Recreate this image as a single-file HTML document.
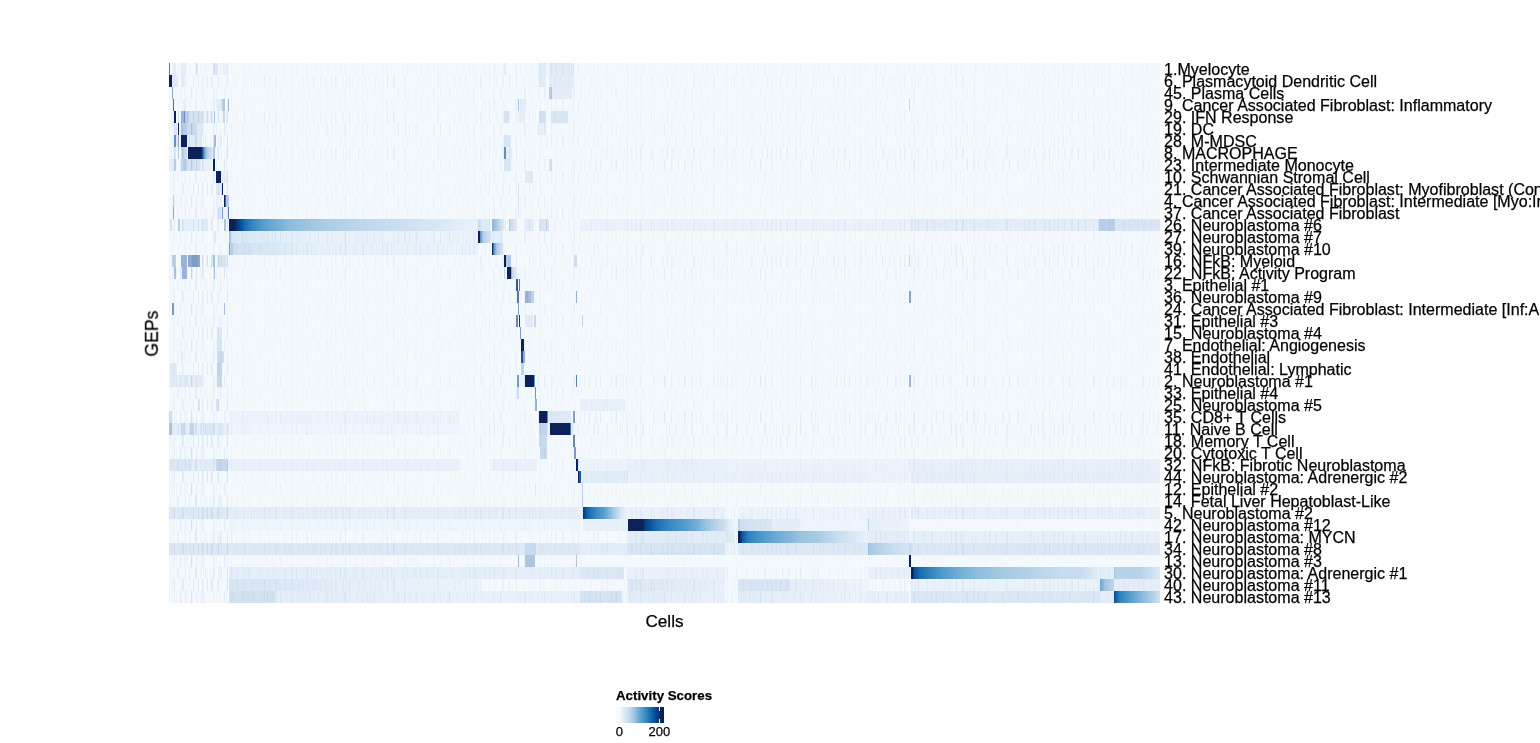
<!DOCTYPE html>
<html><head><meta charset="utf-8"><style>
html,body{margin:0;padding:0;background:#fff;overflow:hidden;width:1540px;height:743px}
svg{display:block}
text{font-family:"Liberation Sans",sans-serif}
</style></head><body>
<svg width="1540" height="743" viewBox="0 0 1540 743" shape-rendering="crispEdges">
<defs><linearGradient id="lg" x1="0" x2="1" y1="0" y2="0"><stop offset="0.0000" stop-color="#f7fbff"/><stop offset="0.0625" stop-color="#f7fbff"/><stop offset="0.0889" stop-color="#f1f7fd"/><stop offset="0.1152" stop-color="#eaf3fb"/><stop offset="0.1416" stop-color="#e4eff9"/><stop offset="0.1680" stop-color="#deebf7"/><stop offset="0.1943" stop-color="#d8e7f5"/><stop offset="0.2207" stop-color="#d2e3f3"/><stop offset="0.2471" stop-color="#ccdff1"/><stop offset="0.2734" stop-color="#c6dbef"/><stop offset="0.2998" stop-color="#bcd6ec"/><stop offset="0.3262" stop-color="#b2d0e8"/><stop offset="0.3525" stop-color="#a8cbe4"/><stop offset="0.3789" stop-color="#9ec6e1"/><stop offset="0.4053" stop-color="#91bfde"/><stop offset="0.4316" stop-color="#84b8db"/><stop offset="0.4580" stop-color="#78b1d8"/><stop offset="0.4844" stop-color="#6baad5"/><stop offset="0.5107" stop-color="#61a4d1"/><stop offset="0.5371" stop-color="#569ece"/><stop offset="0.5635" stop-color="#4c98ca"/><stop offset="0.5898" stop-color="#4292c6"/><stop offset="0.6162" stop-color="#3a8ac2"/><stop offset="0.6426" stop-color="#3282be"/><stop offset="0.6689" stop-color="#2979b9"/><stop offset="0.6953" stop-color="#2171b5"/><stop offset="0.7217" stop-color="#1b69af"/><stop offset="0.7480" stop-color="#1461a8"/><stop offset="0.7744" stop-color="#0e59a2"/><stop offset="0.8008" stop-color="#08519c"/><stop offset="0.8271" stop-color="#084990"/><stop offset="0.8535" stop-color="#084084"/><stop offset="0.8799" stop-color="#083877"/><stop offset="0.9062" stop-color="#08306b"/><stop offset="0.9167" stop-color="#0c2159"/><stop offset="1.0000" stop-color="#0c2159"/></linearGradient>
<filter id="stripes0" x="169" y="63" width="991" height="540" filterUnits="userSpaceOnUse" color-interpolation-filters="sRGB">
<feTurbulence type="fractalNoise" baseFrequency="0.45 0.0001" numOctaves="2" seed="3" result="n"/>
<feColorMatrix in="n" type="matrix" values="0 0 0 0 0.23  0 0 0 0 0.44  0 0 0 0 0.69  3.0 0 0 0 -1.5"/>
</filter><filter id="stripes1" x="169" y="63" width="991" height="540" filterUnits="userSpaceOnUse" color-interpolation-filters="sRGB">
<feTurbulence type="fractalNoise" baseFrequency="0.45 0.0001" numOctaves="2" seed="10" result="n"/>
<feColorMatrix in="n" type="matrix" values="0 0 0 0 0.23  0 0 0 0 0.44  0 0 0 0 0.69  3.0 0 0 0 -1.5"/>
</filter><filter id="stripes2" x="169" y="63" width="991" height="540" filterUnits="userSpaceOnUse" color-interpolation-filters="sRGB">
<feTurbulence type="fractalNoise" baseFrequency="0.45 0.0001" numOctaves="2" seed="17" result="n"/>
<feColorMatrix in="n" type="matrix" values="0 0 0 0 0.23  0 0 0 0 0.44  0 0 0 0 0.69  3.0 0 0 0 -1.5"/>
</filter></defs>
<g>
<rect x="169" y="63" width="991" height="540" fill="#f4f9fd"/>
<rect x="504.00" y="63" width="2.00" height="12" fill="#e4eef8"/>
<rect x="537.60" y="63" width="8.40" height="12" fill="#e3edf7"/>
<rect x="549.00" y="63" width="25.00" height="12" fill="#e2ecf6"/>
<rect x="173.30" y="63" width="2.40" height="12" fill="#e4edf8"/>
<rect x="181.00" y="63" width="4.80" height="12" fill="#e6eef8"/>
<rect x="196.30" y="63" width="1.20" height="12" fill="#e0eaf6"/>
<rect x="212.80" y="63" width="4.80" height="12" fill="#dde8f5"/>
<rect x="222.50" y="63" width="5.60" height="12" fill="#e8f0f9"/>
<rect x="537.60" y="75" width="8.40" height="12" fill="#e4eef8"/>
<rect x="549.00" y="75" width="25.00" height="12" fill="#e3edf7"/>
<rect x="172.00" y="75" width="6.00" height="12" fill="#e2ecf7"/>
<rect x="181.00" y="75" width="5.00" height="12" fill="#eaf1fa"/>
<rect x="549.40" y="87" width="2.20" height="12" fill="#b8cce6"/>
<rect x="551.60" y="87" width="20.40" height="12" fill="#e4eef8"/>
<rect x="520.00" y="99" width="6.00" height="12" fill="#e4edf8"/>
<rect x="182.00" y="99" width="4.00" height="12" fill="#eaf2fa"/>
<rect x="216.00" y="99" width="5.50" height="12" fill="#e6eef8"/>
<rect x="909.30" y="99" width="1.00" height="12" fill="#d0dcec"/>
<rect x="504.00" y="111" width="4.50" height="12" fill="#d7e4f2"/>
<rect x="518.00" y="111" width="7.00" height="12" fill="#e7eff8"/>
<rect x="538.70" y="111" width="7.50" height="12" fill="#d5e2f1"/>
<rect x="550.50" y="111" width="17.30" height="12" fill="#dae6f3"/>
<rect x="177.50" y="111" width="1.40" height="12" fill="#d0dff0"/>
<rect x="185.20" y="111" width="3.80" height="12" fill="#b8cce6"/>
<rect x="189.00" y="111" width="13.00" height="12" fill="#d5e2f1"/>
<rect x="202.00" y="111" width="10.00" height="12" fill="#eaf1fa"/>
<rect x="223.30" y="111" width="1.40" height="12" fill="#c8d8ec"/>
<rect x="538.00" y="123" width="8.00" height="12" fill="#e8f0f9"/>
<rect x="174.00" y="123" width="3.10" height="12" fill="#e0eaf6"/>
<rect x="186.60" y="123" width="9.10" height="12" fill="#c8dcef"/>
<rect x="195.70" y="123" width="6.30" height="12" fill="#e0eaf6"/>
<rect x="504.00" y="135" width="6.60" height="12" fill="#dae6f3"/>
<rect x="176.00" y="135" width="1.50" height="12" fill="#e0eaf6"/>
<rect x="179.20" y="135" width="1.80" height="12" fill="#eaf2fa"/>
<rect x="187.00" y="135" width="15.00" height="12" fill="#e2ecf7"/>
<rect x="506.00" y="147" width="6.00" height="12" fill="#e5eef8"/>
<rect x="174.00" y="147" width="1.80" height="12" fill="#dce8f5"/>
<rect x="181.30" y="147" width="5.60" height="12" fill="#c8daee"/>
<rect x="504.00" y="159" width="6.60" height="12" fill="#dae6f3"/>
<rect x="549.40" y="159" width="2.20" height="12" fill="#d5e2f1"/>
<rect x="169.00" y="159" width="4.60" height="12" fill="#e8f0f9"/>
<rect x="174.00" y="159" width="2.00" height="12" fill="#b8cfe8"/>
<rect x="181.00" y="159" width="2.00" height="12" fill="#c8daee"/>
<rect x="183.00" y="159" width="3.00" height="12" fill="#b8cfe6"/>
<rect x="186.00" y="159" width="1.00" height="12" fill="#c8daee"/>
<rect x="187.00" y="159" width="13.00" height="12" fill="#d5e3f2"/>
<rect x="200.00" y="159" width="12.00" height="12" fill="#e8f0f9"/>
<rect x="524.60" y="171" width="8.70" height="12" fill="#e0ebf6"/>
<rect x="221.10" y="171" width="6.90" height="12" fill="#e6eef8"/>
<rect x="517.80" y="183" width="1.50" height="12" fill="#d8e5f3"/>
<rect x="216.30" y="183" width="5.60" height="12" fill="#e2ecf7"/>
<rect x="517.80" y="195" width="1.50" height="12" fill="#d8e5f3"/>
<rect x="172.50" y="195" width="1.10" height="12" fill="#c0d0e6"/>
<rect x="216.00" y="195" width="6.00" height="12" fill="#edf3fb"/>
<rect x="226.10" y="195" width="2.90" height="12" fill="#b8cce6"/>
<rect x="517.80" y="207" width="1.50" height="12" fill="#d8e5f3"/>
<rect x="217.00" y="207" width="3.90" height="12" fill="#d8e5f3"/>
<rect x="223.00" y="207" width="4.90" height="12" fill="#eef4fb"/>
<rect x="170.00" y="219" width="1.90" height="12" fill="#dae6f4"/>
<rect x="178.20" y="219" width="1.70" height="12" fill="#b8d0e8"/>
<rect x="181.00" y="219" width="21.00" height="12" fill="#e8f0f9"/>
<rect x="202.30" y="219" width="4.20" height="12" fill="#e2ecf7"/>
<rect x="477.00" y="219" width="1.00" height="12" fill="#e8f0f9"/>
<rect x="478.00" y="219" width="1.70" height="12" fill="#d0dcec"/>
<rect x="479.70" y="219" width="10.30" height="12" fill="#e2ecf7"/>
<rect x="502.80" y="219" width="2.10" height="12" fill="#eef4fb"/>
<rect x="504.90" y="219" width="1.40" height="12" fill="#dde8f4"/>
<rect x="508.80" y="219" width="1.00" height="12" fill="#c0d4ea"/>
<linearGradient id="g13_2" x1="0" x2="1" y1="0" y2="0"><stop offset="0.0000" stop-color="#c8daee"/><stop offset="1.0000" stop-color="#dde9f5"/></linearGradient>
<rect x="509.80" y="219" width="6.20" height="12" fill="url(#g13_2)"/>
<rect x="525.00" y="219" width="8.00" height="12" fill="#e2ecf7"/>
<rect x="539.00" y="219" width="9.70" height="12" fill="#dce8f5"/>
<rect x="546.00" y="219" width="1.00" height="12" fill="#b8d0e8"/>
<rect x="580.00" y="219" width="330.00" height="12" fill="#ecf2fa"/>
<rect x="910.00" y="219" width="189.00" height="12" fill="#e4edf8"/>
<rect x="1099.00" y="219" width="16.00" height="12" fill="#b8d0e8"/>
<rect x="1115.00" y="219" width="45.00" height="12" fill="#dae6f4"/>
<rect x="214.20" y="231" width="1.40" height="12" fill="#e0eaf5"/>
<linearGradient id="g14_0" x1="0" x2="1" y1="0" y2="0"><stop offset="0.0000" stop-color="#d9e8f5"/><stop offset="0.1174" stop-color="#dfecf7"/><stop offset="0.3603" stop-color="#e9f2fb"/><stop offset="1.0000" stop-color="#ebf3fb"/></linearGradient>
<rect x="231.00" y="231" width="247.00" height="12" fill="url(#g14_0)"/>
<rect x="490.60" y="231" width="1.40" height="12" fill="#eaf2fa"/>
<rect x="492.00" y="231" width="11.00" height="12" fill="#e6eef8"/>
<rect x="230.20" y="243" width="3.80" height="12" fill="#c0d6ec"/>
<linearGradient id="g15_0" x1="0" x2="1" y1="0" y2="0"><stop offset="0.0000" stop-color="#d0e1f2"/><stop offset="0.1066" stop-color="#d7e7f5"/><stop offset="0.2295" stop-color="#dfecf7"/><stop offset="0.3525" stop-color="#e7f1fa"/><stop offset="1.0000" stop-color="#ebf3fb"/></linearGradient>
<rect x="234.00" y="243" width="244.00" height="12" fill="url(#g15_0)"/>
<rect x="172.20" y="255" width="3.40" height="12" fill="#c0d2e8"/>
<rect x="218.00" y="255" width="8.00" height="12" fill="#d8e4f2"/>
<rect x="506.60" y="255" width="4.10" height="12" fill="#b5cde6"/>
<rect x="573.50" y="255" width="3.70" height="12" fill="#d0dff0"/>
<rect x="909.30" y="255" width="1.00" height="12" fill="#c8d8ec"/>
<rect x="504.00" y="267" width="1.10" height="12" fill="#c8d8ec"/>

<rect x="518.80" y="291" width="2.60" height="12" fill="#eef4fb"/>
<rect x="531.00" y="291" width="2.80" height="12" fill="#c0d2e8"/>

<rect x="525.20" y="315" width="7.70" height="12" fill="#e2ecf7"/>
<rect x="534.30" y="315" width="1.40" height="12" fill="#c8d8ec"/>
<rect x="582.00" y="315" width="1.00" height="12" fill="#c0d4ea"/>
<rect x="217.00" y="327" width="5.00" height="12" fill="#e0eaf6"/>
<rect x="217.00" y="339" width="5.00" height="12" fill="#d8e4f2"/>
<rect x="181.00" y="351" width="2.00" height="12" fill="#e2ecf7"/>
<rect x="217.00" y="351" width="7.00" height="12" fill="#d0dff0"/>
<rect x="170.00" y="363" width="7.00" height="12" fill="#e2ecf7"/>
<rect x="217.00" y="363" width="5.00" height="12" fill="#c8d8ec"/>
<rect x="521.10" y="363" width="3.20" height="12" fill="#c0d4ea"/>
<rect x="170.00" y="375" width="32.00" height="12" fill="#e4edf8"/>
<rect x="217.00" y="375" width="5.00" height="12" fill="#c8d8ec"/>
<rect x="518.70" y="375" width="6.30" height="12" fill="#eef4fb"/>
<rect x="516.60" y="387" width="2.40" height="12" fill="#c8daee"/>
<rect x="198.00" y="399" width="2.00" height="12" fill="#dce8f5"/>
<rect x="216.00" y="399" width="3.00" height="12" fill="#d8e4f2"/>
<rect x="580.00" y="399" width="45.00" height="12" fill="#e8f0f9"/>
<rect x="169.00" y="411" width="3.00" height="12" fill="#d0dff0"/>
<rect x="229.00" y="411" width="231.00" height="12" fill="#edf3fb"/>
<rect x="547.80" y="411" width="23.20" height="12" fill="#e0eaf6"/>
<rect x="169.00" y="423" width="60.00" height="12" fill="#e4edf8"/>
<rect x="181.00" y="423" width="4.00" height="12" fill="#c8daee"/>
<rect x="190.00" y="423" width="4.00" height="12" fill="#c0d4ea"/>
<rect x="200.00" y="423" width="15.00" height="12" fill="#dde8f5"/>
<rect x="229.00" y="423" width="231.00" height="12" fill="#eff5fc"/>
<rect x="538.90" y="423" width="8.10" height="12" fill="#c0d4ea"/>
<rect x="547.00" y="423" width="3.00" height="12" fill="#e8f0f9"/>
<rect x="571.00" y="423" width="2.00" height="12" fill="#e0eaf5"/>
<rect x="538.90" y="435" width="8.10" height="12" fill="#c8dcef"/>
<rect x="540.00" y="447" width="7.00" height="12" fill="#c8daee"/>
<rect x="169.00" y="459" width="60.00" height="12" fill="#e4edf8"/>
<rect x="170.00" y="459" width="22.00" height="12" fill="#dce8f5"/>
<rect x="216.00" y="459" width="12.00" height="12" fill="#c8d8ec"/>
<rect x="229.00" y="459" width="231.00" height="12" fill="#eaf1fa"/>
<rect x="491.00" y="459" width="46.00" height="12" fill="#eaf1fa"/>
<rect x="577.80" y="459" width="2.20" height="12" fill="#e2ecf7"/>
<rect x="580.00" y="459" width="580.00" height="12" fill="#edf3fb"/>
<rect x="628.00" y="459" width="97.00" height="12" fill="#e8f0f9"/>
<rect x="909.00" y="459" width="251.00" height="12" fill="#e8f0f9"/>
<rect x="580.60" y="471" width="47.40" height="12" fill="#e2ecf7"/>
<rect x="628.00" y="471" width="240.00" height="12" fill="#eaf1fa"/>
<rect x="868.00" y="471" width="42.00" height="12" fill="#edf3fb"/>
<rect x="911.00" y="471" width="249.00" height="12" fill="#e6eef8"/>
<rect x="535.00" y="483" width="1.00" height="12" fill="#dde8f4"/>
<rect x="581.50" y="483" width="1.40" height="12" fill="#c8d4e6"/>
<rect x="581.80" y="495" width="1.40" height="12" fill="#b8cce6"/>
<rect x="169.00" y="507" width="60.00" height="12" fill="#e0eaf6"/>
<rect x="229.00" y="507" width="353.90" height="12" fill="#e6eef8"/>
<rect x="628.00" y="507" width="97.00" height="12" fill="#e9f1fa"/>
<rect x="738.00" y="507" width="130.00" height="12" fill="#eef4fb"/>
<rect x="868.00" y="507" width="41.00" height="12" fill="#ebf2fa"/>
<rect x="911.00" y="507" width="249.00" height="12" fill="#e8f0f9"/>
<rect x="229.00" y="519" width="351.00" height="12" fill="#eff5fc"/>
<rect x="583.00" y="519" width="45.00" height="12" fill="#e8f0f9"/>
<rect x="738.00" y="519" width="2.00" height="12" fill="#b8d0e8"/>
<linearGradient id="g38_1" x1="0" x2="1" y1="0" y2="0"><stop offset="0.0000" stop-color="#cfdff0"/><stop offset="1.0000" stop-color="#dae6f3"/></linearGradient>
<rect x="740.00" y="519" width="32.00" height="12" fill="url(#g38_1)"/>
<rect x="772.00" y="519" width="28.00" height="12" fill="#e4edf8"/>
<rect x="800.00" y="519" width="68.00" height="12" fill="#eef4fb"/>
<rect x="868.00" y="519" width="1.00" height="12" fill="#c0d4ea"/>
<linearGradient id="g38_2" x1="0" x2="1" y1="0" y2="0"><stop offset="0.0000" stop-color="#e6eef8"/><stop offset="1.0000" stop-color="#eef4fb"/></linearGradient>
<rect x="869.00" y="519" width="41.00" height="12" fill="url(#g38_2)"/>
<rect x="628.00" y="531" width="107.00" height="12" fill="#e2ecf7"/>
<rect x="868.00" y="531" width="41.00" height="12" fill="#e4edf8"/>
<rect x="911.00" y="531" width="249.00" height="12" fill="#e8f0f9"/>
<rect x="169.00" y="543" width="991.00" height="12" fill="#dfe9f5"/>
<rect x="524.80" y="543" width="10.70" height="12" fill="#c8dcef"/>
<rect x="580.00" y="543" width="48.00" height="12" fill="#e4edf8"/>
<rect x="628.00" y="543" width="97.00" height="12" fill="#d8e5f3"/>
<rect x="725.00" y="543" width="13.00" height="12" fill="#edf3fb"/>
<rect x="909.00" y="543" width="2.00" height="12" fill="#c8dbef"/>
<rect x="911.00" y="543" width="249.00" height="12" fill="#dde8f5"/>

<rect x="229.00" y="567" width="351.00" height="12" fill="#e6eff9"/>
<rect x="580.00" y="567" width="44.00" height="12" fill="#dde8f5"/>
<rect x="628.00" y="567" width="97.00" height="12" fill="#eaf1fa"/>
<rect x="868.00" y="567" width="41.00" height="12" fill="#e8f0f9"/>
<rect x="1100.00" y="567" width="14.00" height="12" fill="#e4edf8"/>
<linearGradient id="g43_0" x1="0" x2="1" y1="0" y2="0"><stop offset="0.0000" stop-color="#d8e5f3"/><stop offset="1.0000" stop-color="#e2ecf7"/></linearGradient>
<rect x="229.00" y="579" width="101.00" height="12" fill="url(#g43_0)"/>
<linearGradient id="g43_1" x1="0" x2="1" y1="0" y2="0"><stop offset="0.0000" stop-color="#e6eef8"/><stop offset="1.0000" stop-color="#eef4fb"/></linearGradient>
<rect x="330.00" y="579" width="150.00" height="12" fill="url(#g43_1)"/>
<linearGradient id="g43_2" x1="0" x2="1" y1="0" y2="0"><stop offset="0.0000" stop-color="#dce8f5"/><stop offset="1.0000" stop-color="#eaf1fa"/></linearGradient>
<rect x="628.00" y="579" width="97.00" height="12" fill="url(#g43_2)"/>
<rect x="738.00" y="579" width="52.00" height="12" fill="#dae6f4"/>
<linearGradient id="g43_3" x1="0" x2="1" y1="0" y2="0"><stop offset="0.0000" stop-color="#e6eef8"/><stop offset="1.0000" stop-color="#eef4fb"/></linearGradient>
<rect x="790.00" y="579" width="78.00" height="12" fill="url(#g43_3)"/>
<rect x="911.00" y="579" width="189.00" height="12" fill="#eaf2fa"/>
<rect x="1114.00" y="579" width="46.00" height="12" fill="#e4edf8"/>
<rect x="229.00" y="591" width="46.00" height="12" fill="#d2e2f1"/>
<linearGradient id="g44_0" x1="0" x2="1" y1="0" y2="0"><stop offset="0.0000" stop-color="#e4edf8"/><stop offset="1.0000" stop-color="#eaf1fa"/></linearGradient>
<rect x="275.00" y="591" width="205.00" height="12" fill="url(#g44_0)"/>
<rect x="480.00" y="591" width="100.00" height="12" fill="#eaf1fa"/>
<rect x="580.00" y="591" width="42.00" height="12" fill="#d5e3f2"/>
<linearGradient id="g44_1" x1="0" x2="1" y1="0" y2="0"><stop offset="0.0000" stop-color="#e2ecf7"/><stop offset="1.0000" stop-color="#eaf1fa"/></linearGradient>
<rect x="628.00" y="591" width="97.00" height="12" fill="url(#g44_1)"/>
<linearGradient id="g44_2" x1="0" x2="1" y1="0" y2="0"><stop offset="0.0000" stop-color="#e2ecf7"/><stop offset="1.0000" stop-color="#eef4fb"/></linearGradient>
<rect x="738.00" y="591" width="130.00" height="12" fill="url(#g44_2)"/>
<rect x="868.00" y="591" width="41.00" height="12" fill="#e8f0f9"/>
<rect x="911.00" y="591" width="189.00" height="12" fill="#dde8f5"/>
<rect x="1100.00" y="591" width="14.00" height="12" fill="#e4edf8"/>
<mask id="tm0" maskUnits="userSpaceOnUse" x="169" y="63" width="991" height="540"><rect x="169.0" y="63" width="60.0" height="12" fill="rgb(31,31,31)"/><rect x="229.0" y="63" width="249.0" height="12" fill="rgb(15,15,15)"/><rect x="478.0" y="63" width="104.0" height="12" fill="rgb(26,26,26)"/><rect x="582.0" y="63" width="328.0" height="12" fill="rgb(15,15,15)"/><rect x="910.0" y="63" width="250.0" height="12" fill="rgb(15,15,15)"/><rect x="169.0" y="99" width="60.0" height="12" fill="rgb(31,31,31)"/><rect x="229.0" y="99" width="249.0" height="12" fill="rgb(15,15,15)"/><rect x="478.0" y="99" width="104.0" height="12" fill="rgb(26,26,26)"/><rect x="582.0" y="99" width="328.0" height="12" fill="rgb(15,15,15)"/><rect x="910.0" y="99" width="250.0" height="12" fill="rgb(15,15,15)"/><rect x="169.0" y="135" width="60.0" height="12" fill="rgb(64,64,64)"/><rect x="229.0" y="135" width="249.0" height="12" fill="rgb(15,15,15)"/><rect x="478.0" y="135" width="104.0" height="12" fill="rgb(26,26,26)"/><rect x="582.0" y="135" width="328.0" height="12" fill="rgb(20,20,20)"/><rect x="910.0" y="135" width="250.0" height="12" fill="rgb(20,20,20)"/><rect x="169.0" y="171" width="60.0" height="12" fill="rgb(38,38,38)"/><rect x="229.0" y="171" width="249.0" height="12" fill="rgb(15,15,15)"/><rect x="478.0" y="171" width="104.0" height="12" fill="rgb(26,26,26)"/><rect x="582.0" y="171" width="328.0" height="12" fill="rgb(18,18,18)"/><rect x="910.0" y="171" width="250.0" height="12" fill="rgb(18,18,18)"/><rect x="169.0" y="207" width="60.0" height="12" fill="rgb(38,38,38)"/><rect x="229.0" y="207" width="249.0" height="12" fill="rgb(15,15,15)"/><rect x="478.0" y="207" width="104.0" height="12" fill="rgb(26,26,26)"/><rect x="582.0" y="207" width="328.0" height="12" fill="rgb(13,13,13)"/><rect x="910.0" y="207" width="250.0" height="12" fill="rgb(13,13,13)"/><rect x="169.0" y="243" width="60.0" height="12" fill="rgb(31,31,31)"/><rect x="229.0" y="243" width="249.0" height="12" fill="rgb(31,31,31)"/><rect x="478.0" y="243" width="104.0" height="12" fill="rgb(26,26,26)"/><rect x="582.0" y="243" width="328.0" height="12" fill="rgb(26,26,26)"/><rect x="910.0" y="243" width="250.0" height="12" fill="rgb(26,26,26)"/><rect x="169.0" y="279" width="60.0" height="12" fill="rgb(38,38,38)"/><rect x="229.0" y="279" width="249.0" height="12" fill="rgb(13,13,13)"/><rect x="478.0" y="279" width="104.0" height="12" fill="rgb(20,20,20)"/><rect x="582.0" y="279" width="328.0" height="12" fill="rgb(13,13,13)"/><rect x="910.0" y="279" width="250.0" height="12" fill="rgb(13,13,13)"/><rect x="169.0" y="315" width="60.0" height="12" fill="rgb(38,38,38)"/><rect x="229.0" y="315" width="249.0" height="12" fill="rgb(13,13,13)"/><rect x="478.0" y="315" width="104.0" height="12" fill="rgb(20,20,20)"/><rect x="582.0" y="315" width="328.0" height="12" fill="rgb(13,13,13)"/><rect x="910.0" y="315" width="250.0" height="12" fill="rgb(13,13,13)"/><rect x="169.0" y="351" width="60.0" height="12" fill="rgb(38,38,38)"/><rect x="229.0" y="351" width="249.0" height="12" fill="rgb(13,13,13)"/><rect x="478.0" y="351" width="104.0" height="12" fill="rgb(20,20,20)"/><rect x="582.0" y="351" width="328.0" height="12" fill="rgb(13,13,13)"/><rect x="910.0" y="351" width="250.0" height="12" fill="rgb(13,13,13)"/><rect x="169.0" y="387" width="60.0" height="12" fill="rgb(38,38,38)"/><rect x="229.0" y="387" width="249.0" height="12" fill="rgb(13,13,13)"/><rect x="478.0" y="387" width="104.0" height="12" fill="rgb(20,20,20)"/><rect x="582.0" y="387" width="328.0" height="12" fill="rgb(15,15,15)"/><rect x="910.0" y="387" width="250.0" height="12" fill="rgb(15,15,15)"/><rect x="169.0" y="423" width="60.0" height="12" fill="rgb(51,51,51)"/><rect x="229.0" y="423" width="249.0" height="12" fill="rgb(20,20,20)"/><rect x="478.0" y="423" width="104.0" height="12" fill="rgb(31,31,31)"/><rect x="582.0" y="423" width="328.0" height="12" fill="rgb(33,33,33)"/><rect x="910.0" y="423" width="250.0" height="12" fill="rgb(33,33,33)"/><rect x="169.0" y="459" width="60.0" height="12" fill="rgb(51,51,51)"/><rect x="229.0" y="459" width="249.0" height="12" fill="rgb(15,15,15)"/><rect x="478.0" y="459" width="104.0" height="12" fill="rgb(20,20,20)"/><rect x="582.0" y="459" width="328.0" height="12" fill="rgb(15,15,15)"/><rect x="910.0" y="459" width="250.0" height="12" fill="rgb(15,15,15)"/><rect x="169.0" y="495" width="60.0" height="12" fill="rgb(51,51,51)"/><rect x="229.0" y="495" width="249.0" height="12" fill="rgb(15,15,15)"/><rect x="478.0" y="495" width="104.0" height="12" fill="rgb(20,20,20)"/><rect x="582.0" y="495" width="328.0" height="12" fill="rgb(15,15,15)"/><rect x="910.0" y="495" width="250.0" height="12" fill="rgb(15,15,15)"/><rect x="169.0" y="531" width="60.0" height="12" fill="rgb(51,51,51)"/><rect x="229.0" y="531" width="249.0" height="12" fill="rgb(26,26,26)"/><rect x="478.0" y="531" width="104.0" height="12" fill="rgb(26,26,26)"/><rect x="582.0" y="531" width="328.0" height="12" fill="rgb(26,26,26)"/><rect x="910.0" y="531" width="250.0" height="12" fill="rgb(26,26,26)"/><rect x="169.0" y="567" width="60.0" height="12" fill="rgb(51,51,51)"/><rect x="229.0" y="567" width="249.0" height="12" fill="rgb(26,26,26)"/><rect x="478.0" y="567" width="104.0" height="12" fill="rgb(26,26,26)"/><rect x="582.0" y="567" width="328.0" height="12" fill="rgb(26,26,26)"/><rect x="910.0" y="567" width="250.0" height="12" fill="rgb(26,26,26)"/></mask>
<rect x="169" y="63" width="991" height="540" fill="#000" filter="url(#stripes0)" mask="url(#tm0)"/>
<mask id="tm1" maskUnits="userSpaceOnUse" x="169" y="63" width="991" height="540"><rect x="169.0" y="75" width="60.0" height="12" fill="rgb(31,31,31)"/><rect x="229.0" y="75" width="249.0" height="12" fill="rgb(26,26,26)"/><rect x="478.0" y="75" width="104.0" height="12" fill="rgb(26,26,26)"/><rect x="582.0" y="75" width="328.0" height="12" fill="rgb(20,20,20)"/><rect x="910.0" y="75" width="250.0" height="12" fill="rgb(20,20,20)"/><rect x="169.0" y="111" width="60.0" height="12" fill="rgb(64,64,64)"/><rect x="229.0" y="111" width="249.0" height="12" fill="rgb(26,26,26)"/><rect x="478.0" y="111" width="104.0" height="12" fill="rgb(26,26,26)"/><rect x="582.0" y="111" width="328.0" height="12" fill="rgb(18,18,18)"/><rect x="910.0" y="111" width="250.0" height="12" fill="rgb(18,18,18)"/><rect x="169.0" y="147" width="60.0" height="12" fill="rgb(64,64,64)"/><rect x="229.0" y="147" width="249.0" height="12" fill="rgb(26,26,26)"/><rect x="478.0" y="147" width="104.0" height="12" fill="rgb(26,26,26)"/><rect x="582.0" y="147" width="328.0" height="12" fill="rgb(31,31,31)"/><rect x="910.0" y="147" width="250.0" height="12" fill="rgb(31,31,31)"/><rect x="169.0" y="183" width="60.0" height="12" fill="rgb(38,38,38)"/><rect x="229.0" y="183" width="249.0" height="12" fill="rgb(15,15,15)"/><rect x="478.0" y="183" width="104.0" height="12" fill="rgb(26,26,26)"/><rect x="582.0" y="183" width="328.0" height="12" fill="rgb(13,13,13)"/><rect x="910.0" y="183" width="250.0" height="12" fill="rgb(13,13,13)"/><rect x="169.0" y="219" width="60.0" height="12" fill="rgb(51,51,51)"/><rect x="478.0" y="219" width="104.0" height="12" fill="rgb(38,38,38)"/><rect x="582.0" y="219" width="328.0" height="12" fill="rgb(26,26,26)"/><rect x="910.0" y="219" width="250.0" height="12" fill="rgb(38,38,38)"/><rect x="169.0" y="255" width="60.0" height="12" fill="rgb(76,76,76)"/><rect x="229.0" y="255" width="249.0" height="12" fill="rgb(20,20,20)"/><rect x="478.0" y="255" width="104.0" height="12" fill="rgb(26,26,26)"/><rect x="582.0" y="255" width="328.0" height="12" fill="rgb(31,31,31)"/><rect x="910.0" y="255" width="250.0" height="12" fill="rgb(31,31,31)"/><rect x="169.0" y="291" width="60.0" height="12" fill="rgb(38,38,38)"/><rect x="229.0" y="291" width="249.0" height="12" fill="rgb(13,13,13)"/><rect x="478.0" y="291" width="104.0" height="12" fill="rgb(20,20,20)"/><rect x="582.0" y="291" width="328.0" height="12" fill="rgb(18,18,18)"/><rect x="910.0" y="291" width="250.0" height="12" fill="rgb(18,18,18)"/><rect x="169.0" y="327" width="60.0" height="12" fill="rgb(38,38,38)"/><rect x="229.0" y="327" width="249.0" height="12" fill="rgb(13,13,13)"/><rect x="478.0" y="327" width="104.0" height="12" fill="rgb(20,20,20)"/><rect x="582.0" y="327" width="328.0" height="12" fill="rgb(13,13,13)"/><rect x="910.0" y="327" width="250.0" height="12" fill="rgb(13,13,13)"/><rect x="169.0" y="363" width="60.0" height="12" fill="rgb(38,38,38)"/><rect x="229.0" y="363" width="249.0" height="12" fill="rgb(13,13,13)"/><rect x="478.0" y="363" width="104.0" height="12" fill="rgb(20,20,20)"/><rect x="582.0" y="363" width="328.0" height="12" fill="rgb(13,13,13)"/><rect x="910.0" y="363" width="250.0" height="12" fill="rgb(13,13,13)"/><rect x="169.0" y="399" width="60.0" height="12" fill="rgb(38,38,38)"/><rect x="229.0" y="399" width="249.0" height="12" fill="rgb(13,13,13)"/><rect x="478.0" y="399" width="104.0" height="12" fill="rgb(20,20,20)"/><rect x="582.0" y="399" width="328.0" height="12" fill="rgb(15,15,15)"/><rect x="910.0" y="399" width="250.0" height="12" fill="rgb(15,15,15)"/><rect x="169.0" y="435" width="60.0" height="12" fill="rgb(51,51,51)"/><rect x="229.0" y="435" width="249.0" height="12" fill="rgb(15,15,15)"/><rect x="478.0" y="435" width="104.0" height="12" fill="rgb(26,26,26)"/><rect x="582.0" y="435" width="328.0" height="12" fill="rgb(26,26,26)"/><rect x="910.0" y="435" width="250.0" height="12" fill="rgb(26,26,26)"/><rect x="169.0" y="471" width="60.0" height="12" fill="rgb(51,51,51)"/><rect x="229.0" y="471" width="249.0" height="12" fill="rgb(15,15,15)"/><rect x="478.0" y="471" width="104.0" height="12" fill="rgb(20,20,20)"/><rect x="582.0" y="471" width="328.0" height="12" fill="rgb(15,15,15)"/><rect x="910.0" y="471" width="250.0" height="12" fill="rgb(15,15,15)"/><rect x="169.0" y="507" width="60.0" height="12" fill="rgb(51,51,51)"/><rect x="229.0" y="507" width="249.0" height="12" fill="rgb(26,26,26)"/><rect x="478.0" y="507" width="104.0" height="12" fill="rgb(26,26,26)"/><rect x="582.0" y="507" width="328.0" height="12" fill="rgb(26,26,26)"/><rect x="910.0" y="507" width="250.0" height="12" fill="rgb(26,26,26)"/><rect x="169.0" y="543" width="60.0" height="12" fill="rgb(51,51,51)"/><rect x="229.0" y="543" width="249.0" height="12" fill="rgb(26,26,26)"/><rect x="478.0" y="543" width="104.0" height="12" fill="rgb(26,26,26)"/><rect x="582.0" y="543" width="328.0" height="12" fill="rgb(26,26,26)"/><rect x="910.0" y="543" width="250.0" height="12" fill="rgb(26,26,26)"/><rect x="169.0" y="579" width="60.0" height="12" fill="rgb(51,51,51)"/><rect x="229.0" y="579" width="249.0" height="12" fill="rgb(26,26,26)"/><rect x="478.0" y="579" width="104.0" height="12" fill="rgb(26,26,26)"/><rect x="582.0" y="579" width="328.0" height="12" fill="rgb(26,26,26)"/><rect x="910.0" y="579" width="250.0" height="12" fill="rgb(26,26,26)"/></mask>
<rect x="169" y="63" width="991" height="540" fill="#000" filter="url(#stripes1)" mask="url(#tm1)"/>
<mask id="tm2" maskUnits="userSpaceOnUse" x="169" y="63" width="991" height="540"><rect x="169.0" y="87" width="60.0" height="12" fill="rgb(31,31,31)"/><rect x="229.0" y="87" width="249.0" height="12" fill="rgb(15,15,15)"/><rect x="478.0" y="87" width="104.0" height="12" fill="rgb(26,26,26)"/><rect x="582.0" y="87" width="328.0" height="12" fill="rgb(13,13,13)"/><rect x="910.0" y="87" width="250.0" height="12" fill="rgb(13,13,13)"/><rect x="169.0" y="123" width="60.0" height="12" fill="rgb(64,64,64)"/><rect x="229.0" y="123" width="249.0" height="12" fill="rgb(26,26,26)"/><rect x="478.0" y="123" width="104.0" height="12" fill="rgb(26,26,26)"/><rect x="582.0" y="123" width="328.0" height="12" fill="rgb(20,20,20)"/><rect x="910.0" y="123" width="250.0" height="12" fill="rgb(20,20,20)"/><rect x="169.0" y="159" width="60.0" height="12" fill="rgb(64,64,64)"/><rect x="229.0" y="159" width="249.0" height="12" fill="rgb(15,15,15)"/><rect x="478.0" y="159" width="104.0" height="12" fill="rgb(26,26,26)"/><rect x="582.0" y="159" width="328.0" height="12" fill="rgb(28,28,28)"/><rect x="910.0" y="159" width="250.0" height="12" fill="rgb(28,28,28)"/><rect x="169.0" y="195" width="60.0" height="12" fill="rgb(38,38,38)"/><rect x="229.0" y="195" width="249.0" height="12" fill="rgb(15,15,15)"/><rect x="478.0" y="195" width="104.0" height="12" fill="rgb(26,26,26)"/><rect x="582.0" y="195" width="328.0" height="12" fill="rgb(15,15,15)"/><rect x="910.0" y="195" width="250.0" height="12" fill="rgb(15,15,15)"/><rect x="169.0" y="231" width="60.0" height="12" fill="rgb(31,31,31)"/><rect x="229.0" y="231" width="249.0" height="12" fill="rgb(31,31,31)"/><rect x="478.0" y="231" width="104.0" height="12" fill="rgb(26,26,26)"/><rect x="582.0" y="231" width="328.0" height="12" fill="rgb(15,15,15)"/><rect x="910.0" y="231" width="250.0" height="12" fill="rgb(15,15,15)"/><rect x="169.0" y="267" width="60.0" height="12" fill="rgb(76,76,76)"/><rect x="229.0" y="267" width="249.0" height="12" fill="rgb(20,20,20)"/><rect x="478.0" y="267" width="104.0" height="12" fill="rgb(26,26,26)"/><rect x="582.0" y="267" width="328.0" height="12" fill="rgb(26,26,26)"/><rect x="910.0" y="267" width="250.0" height="12" fill="rgb(26,26,26)"/><rect x="169.0" y="303" width="60.0" height="12" fill="rgb(38,38,38)"/><rect x="229.0" y="303" width="249.0" height="12" fill="rgb(13,13,13)"/><rect x="478.0" y="303" width="104.0" height="12" fill="rgb(20,20,20)"/><rect x="582.0" y="303" width="328.0" height="12" fill="rgb(10,10,10)"/><rect x="910.0" y="303" width="250.0" height="12" fill="rgb(10,10,10)"/><rect x="169.0" y="339" width="60.0" height="12" fill="rgb(38,38,38)"/><rect x="229.0" y="339" width="249.0" height="12" fill="rgb(13,13,13)"/><rect x="478.0" y="339" width="104.0" height="12" fill="rgb(20,20,20)"/><rect x="582.0" y="339" width="328.0" height="12" fill="rgb(15,15,15)"/><rect x="910.0" y="339" width="250.0" height="12" fill="rgb(15,15,15)"/><rect x="169.0" y="375" width="60.0" height="12" fill="rgb(51,51,51)"/><rect x="229.0" y="375" width="249.0" height="12" fill="rgb(20,20,20)"/><rect x="478.0" y="375" width="104.0" height="12" fill="rgb(31,31,31)"/><rect x="582.0" y="375" width="328.0" height="12" fill="rgb(33,33,33)"/><rect x="910.0" y="375" width="250.0" height="12" fill="rgb(33,33,33)"/><rect x="169.0" y="411" width="60.0" height="12" fill="rgb(51,51,51)"/><rect x="229.0" y="411" width="249.0" height="12" fill="rgb(20,20,20)"/><rect x="478.0" y="411" width="104.0" height="12" fill="rgb(31,31,31)"/><rect x="582.0" y="411" width="328.0" height="12" fill="rgb(33,33,33)"/><rect x="910.0" y="411" width="250.0" height="12" fill="rgb(33,33,33)"/><rect x="169.0" y="447" width="60.0" height="12" fill="rgb(51,51,51)"/><rect x="229.0" y="447" width="249.0" height="12" fill="rgb(15,15,15)"/><rect x="478.0" y="447" width="104.0" height="12" fill="rgb(20,20,20)"/><rect x="582.0" y="447" width="328.0" height="12" fill="rgb(15,15,15)"/><rect x="910.0" y="447" width="250.0" height="12" fill="rgb(15,15,15)"/><rect x="169.0" y="483" width="60.0" height="12" fill="rgb(51,51,51)"/><rect x="229.0" y="483" width="249.0" height="12" fill="rgb(15,15,15)"/><rect x="478.0" y="483" width="104.0" height="12" fill="rgb(20,20,20)"/><rect x="582.0" y="483" width="328.0" height="12" fill="rgb(15,15,15)"/><rect x="910.0" y="483" width="250.0" height="12" fill="rgb(15,15,15)"/><rect x="169.0" y="519" width="60.0" height="12" fill="rgb(51,51,51)"/><rect x="229.0" y="519" width="249.0" height="12" fill="rgb(15,15,15)"/><rect x="478.0" y="519" width="104.0" height="12" fill="rgb(15,15,15)"/><rect x="582.0" y="519" width="328.0" height="12" fill="rgb(5,5,5)"/><rect x="910.0" y="519" width="250.0" height="12" fill="rgb(5,5,5)"/><rect x="169.0" y="555" width="60.0" height="12" fill="rgb(51,51,51)"/><rect x="229.0" y="555" width="249.0" height="12" fill="rgb(15,15,15)"/><rect x="478.0" y="555" width="104.0" height="12" fill="rgb(15,15,15)"/><rect x="582.0" y="555" width="328.0" height="12" fill="rgb(5,5,5)"/><rect x="910.0" y="555" width="250.0" height="12" fill="rgb(5,5,5)"/><rect x="169.0" y="591" width="60.0" height="12" fill="rgb(51,51,51)"/><rect x="229.0" y="591" width="249.0" height="12" fill="rgb(26,26,26)"/><rect x="478.0" y="591" width="104.0" height="12" fill="rgb(26,26,26)"/><rect x="582.0" y="591" width="328.0" height="12" fill="rgb(26,26,26)"/><rect x="910.0" y="591" width="250.0" height="12" fill="rgb(26,26,26)"/></mask>
<rect x="169" y="63" width="991" height="540" fill="#000" filter="url(#stripes2)" mask="url(#tm2)"/>
<rect x="169.00" y="63" width="1.20" height="12" fill="#5a7aa8"/>
<rect x="169.20" y="75" width="2.40" height="12" fill="#0c2159"/>
<rect x="172.00" y="87" width="1.20" height="12" fill="#90a8c8"/>
<rect x="517.80" y="99" width="1.00" height="12" fill="#a8bedb"/>
<rect x="172.90" y="99" width="1.20" height="12" fill="#4a70a8"/>
<rect x="222.00" y="99" width="3.00" height="12" fill="#b4c9e2"/>
<rect x="228.00" y="99" width="1.00" height="12" fill="#a0b8d8"/>
<rect x="174.00" y="111" width="2.30" height="12" fill="#0c2159"/>
<rect x="181.30" y="111" width="2.50" height="12" fill="#9ab4d8"/>
<rect x="183.80" y="111" width="1.40" height="12" fill="#6a8ec0"/>
<rect x="213.50" y="111" width="1.40" height="12" fill="#a8bedb"/>
<rect x="177.50" y="123" width="1.70" height="12" fill="#0c2159"/>
<linearGradient id="g5_0" x1="0" x2="1" y1="0" y2="0"><stop offset="0.0000" stop-color="#a8c2e0"/><stop offset="1.0000" stop-color="#b8d0e8"/></linearGradient>
<rect x="181.30" y="123" width="5.30" height="12" fill="url(#g5_0)"/>
<rect x="174.30" y="135" width="1.50" height="12" fill="#6a90c0"/>
<rect x="177.80" y="135" width="1.40" height="12" fill="#90acd2"/>
<rect x="181.30" y="135" width="5.60" height="12" fill="#0c2159"/>
<rect x="213.90" y="135" width="1.70" height="12" fill="#a0bcdc"/>
<rect x="504.20" y="147" width="1.50" height="12" fill="#6a8ab8"/>
<rect x="177.80" y="147" width="1.40" height="12" fill="#b0c8e4"/>
<rect x="188.30" y="147" width="13.00" height="12" fill="#0c2159"/>
<linearGradient id="g7_0" x1="0" x2="1" y1="0" y2="0"><stop offset="0.0000" stop-color="#0c2159"/><stop offset="0.0943" stop-color="#1a4a90"/><stop offset="0.1604" stop-color="#2a6ab0"/><stop offset="0.3491" stop-color="#80b4d8"/><stop offset="0.5377" stop-color="#b0cce6"/><stop offset="0.7736" stop-color="#c8daef"/><stop offset="1.0000" stop-color="#d0e0f0"/></linearGradient>
<rect x="201.30" y="147" width="10.60" height="12" fill="url(#g7_0)"/>
<rect x="213.20" y="147" width="1.40" height="12" fill="#b0c8e2"/>
<rect x="212.80" y="159" width="2.50" height="12" fill="#0c2159"/>
<rect x="216.20" y="171" width="4.90" height="12" fill="#0c2159"/>
<rect x="221.90" y="183" width="1.40" height="12" fill="#0c2159"/>
<rect x="224.00" y="195" width="1.30" height="12" fill="#0c2159"/>
<rect x="225.30" y="195" width="0.80" height="12" fill="#3a6aa8"/>
<rect x="172.60" y="207" width="1.40" height="12" fill="#90a8cc"/>
<rect x="221.90" y="207" width="1.10" height="12" fill="#7a98c4"/>
<rect x="227.90" y="207" width="1.00" height="12" fill="#5a7aac"/>
<rect x="224.00" y="219" width="2.10" height="12" fill="#a8c4e2"/>
<linearGradient id="g13_0" x1="0" x2="1" y1="0" y2="0"><stop offset="0.0000" stop-color="#0c2159"/><stop offset="0.0234" stop-color="#0c2159"/><stop offset="0.0251" stop-color="#0b265f"/><stop offset="0.0269" stop-color="#092b65"/><stop offset="0.0286" stop-color="#08306b"/><stop offset="0.0367" stop-color="#083d7f"/><stop offset="0.0447" stop-color="#084a92"/><stop offset="0.0515" stop-color="#0b559f"/><stop offset="0.0582" stop-color="#135fa7"/><stop offset="0.0649" stop-color="#1b69af"/><stop offset="0.0790" stop-color="#2676b8"/><stop offset="0.0931" stop-color="#3383bf"/><stop offset="0.1173" stop-color="#4493c7"/><stop offset="0.1374" stop-color="#549dcd"/><stop offset="0.1616" stop-color="#64a6d3"/><stop offset="0.1939" stop-color="#73aed7"/><stop offset="0.2342" stop-color="#88badc"/><stop offset="0.2745" stop-color="#94c0df"/><stop offset="0.3833" stop-color="#a9cce5"/><stop offset="0.4881" stop-color="#b9d4eb"/><stop offset="0.6090" stop-color="#c6dbef"/><stop offset="0.7299" stop-color="#d0e1f2"/><stop offset="0.8509" stop-color="#d9e8f5"/><stop offset="0.9315" stop-color="#e3eef9"/><stop offset="1.0000" stop-color="#e9f2fb"/></linearGradient>
<rect x="228.90" y="219" width="248.10" height="12" fill="url(#g13_0)"/>
<linearGradient id="g13_1" x1="0" x2="1" y1="0" y2="0"><stop offset="0.0000" stop-color="#8ab4d8"/><stop offset="1.0000" stop-color="#d8e6f4"/></linearGradient>
<rect x="492.00" y="219" width="10.80" height="12" fill="url(#g13_1)"/>
<rect x="229.00" y="231" width="2.00" height="12" fill="#a8c4e2"/>
<rect x="478.30" y="231" width="2.00" height="12" fill="#0c2159"/>
<linearGradient id="g14_1" x1="0" x2="1" y1="0" y2="0"><stop offset="0.0000" stop-color="#6a9ad0"/><stop offset="0.0680" stop-color="#6a9ad0"/><stop offset="0.2621" stop-color="#b8cfe8"/><stop offset="0.6505" stop-color="#c8daef"/><stop offset="1.0000" stop-color="#d5e3f2"/></linearGradient>
<rect x="480.30" y="231" width="10.30" height="12" fill="url(#g14_1)"/>
<rect x="229.00" y="243" width="1.20" height="12" fill="#6aa0d0"/>
<rect x="492.00" y="243" width="1.40" height="12" fill="#0c2159"/>
<linearGradient id="g15_1" x1="0" x2="1" y1="0" y2="0"><stop offset="0.0000" stop-color="#3a78b8"/><stop offset="0.1146" stop-color="#6aa0d0"/><stop offset="0.3750" stop-color="#b0cce6"/><stop offset="0.6875" stop-color="#c8daee"/><stop offset="1.0000" stop-color="#d8e5f3"/></linearGradient>
<rect x="493.40" y="243" width="9.60" height="12" fill="url(#g15_1)"/>
<rect x="181.00" y="255" width="5.60" height="12" fill="#9ab2d4"/>
<rect x="188.00" y="255" width="4.00" height="12" fill="#90aacf"/>
<rect x="192.00" y="255" width="6.00" height="12" fill="#7d9cc6"/>
<rect x="198.00" y="255" width="2.30" height="12" fill="#90aacf"/>
<rect x="212.60" y="255" width="2.10" height="12" fill="#a8c0dc"/>
<rect x="503.80" y="255" width="2.00" height="12" fill="#0c2159"/>
<rect x="505.80" y="255" width="0.80" height="12" fill="#b0c8e2"/>
<rect x="173.50" y="267" width="2.80" height="12" fill="#a8c0e0"/>
<rect x="181.80" y="267" width="4.80" height="12" fill="#98b4d8"/>
<rect x="214.00" y="267" width="1.40" height="12" fill="#a8c0e0"/>
<rect x="507.20" y="267" width="3.50" height="12" fill="#0c2159"/>
<linearGradient id="g17_0" x1="0" x2="1" y1="0" y2="0"><stop offset="0.0000" stop-color="#5a90c8"/><stop offset="0.2857" stop-color="#c8daef"/><stop offset="1.0000" stop-color="#e8f0f9"/></linearGradient>
<rect x="510.70" y="267" width="6.30" height="12" fill="url(#g17_0)"/>
<rect x="516.00" y="279" width="2.10" height="12" fill="#3a5a90"/>
<rect x="518.80" y="279" width="1.00" height="12" fill="#5a78a8"/>
<rect x="517.00" y="291" width="1.80" height="12" fill="#5a78a8"/>
<rect x="525.10" y="291" width="2.40" height="12" fill="#9ab0d0"/>
<rect x="527.50" y="291" width="3.50" height="12" fill="#a8bcd8"/>
<rect x="576.00" y="291" width="1.20" height="12" fill="#90b0d4"/>
<rect x="909.30" y="291" width="1.20" height="12" fill="#8aa4c8"/>
<rect x="172.20" y="303" width="1.30" height="12" fill="#7a98c0"/>
<rect x="223.60" y="303" width="1.40" height="12" fill="#a8c0dc"/>
<rect x="517.90" y="303" width="1.00" height="12" fill="#8aa4c8"/>
<rect x="516.00" y="315" width="2.30" height="12" fill="#6a88b8"/>
<rect x="518.60" y="315" width="1.40" height="12" fill="#1a3a78"/>
<rect x="519.80" y="327" width="1.10" height="12" fill="#7a9cc8"/>
<rect x="521.00" y="339" width="2.50" height="12" fill="#0c2159"/>
<rect x="523.50" y="339" width="0.70" height="12" fill="#5a80b8"/>
<rect x="521.10" y="351" width="1.80" height="12" fill="#2a5090"/>
<rect x="522.90" y="351" width="1.60" height="12" fill="#90acd0"/>

<rect x="517.30" y="375" width="1.40" height="12" fill="#7a98c4"/>
<rect x="525.20" y="375" width="8.90" height="12" fill="#0c2159"/>
<rect x="534.10" y="375" width="0.90" height="12" fill="#5aa0d0"/>
<rect x="576.10" y="375" width="1.10" height="12" fill="#5a80b0"/>
<rect x="909.30" y="375" width="1.20" height="12" fill="#a0b8d8"/>
<rect x="534.80" y="387" width="1.00" height="12" fill="#7a90b8"/>
<rect x="535.00" y="399" width="1.80" height="12" fill="#9ab0d0"/>
<rect x="538.90" y="411" width="8.10" height="12" fill="#0c2159"/>
<rect x="547.00" y="411" width="0.80" height="12" fill="#4a90c8"/>
<rect x="573.20" y="411" width="1.80" height="12" fill="#8a9ec4"/>
<rect x="169.00" y="423" width="3.00" height="12" fill="#a8c4e2"/>
<rect x="550.30" y="423" width="19.80" height="12" fill="#0c2159"/>
<rect x="570.10" y="423" width="0.90" height="12" fill="#3a78b8"/>
<rect x="572.90" y="435" width="1.80" height="12" fill="#6a84b0"/>
<rect x="574.00" y="447" width="2.10" height="12" fill="#7a98c4"/>
<rect x="575.70" y="459" width="2.10" height="12" fill="#0c2159"/>
<rect x="578.20" y="471" width="1.00" height="12" fill="#0c2159"/>
<rect x="579.20" y="471" width="1.40" height="12" fill="#1a5aa0"/>


<linearGradient id="g37_0" x1="0" x2="1" y1="0" y2="0"><stop offset="0.0000" stop-color="#083573"/><stop offset="0.0244" stop-color="#083877"/><stop offset="0.0410" stop-color="#08458a"/><stop offset="0.0576" stop-color="#09529d"/><stop offset="0.0965" stop-color="#135fa7"/><stop offset="0.1353" stop-color="#1d6cb1"/><stop offset="0.1907" stop-color="#2676b8"/><stop offset="0.2461" stop-color="#3181bd"/><stop offset="0.3348" stop-color="#4191c5"/><stop offset="0.4457" stop-color="#549dcd"/><stop offset="0.5011" stop-color="#64a6d3"/><stop offset="0.5565" stop-color="#77b1d8"/><stop offset="0.6452" stop-color="#98c3e0"/><stop offset="0.7007" stop-color="#abcde5"/><stop offset="0.7561" stop-color="#bcd6ec"/><stop offset="0.7931" stop-color="#c9ddf0"/><stop offset="0.8300" stop-color="#d2e3f3"/><stop offset="0.8670" stop-color="#dbe9f6"/><stop offset="0.9335" stop-color="#e3eef9"/><stop offset="1.0000" stop-color="#ebf3fb"/></linearGradient>
<rect x="582.90" y="507" width="45.10" height="12" fill="url(#g37_0)"/>
<linearGradient id="g38_0" x1="0" x2="1" y1="0" y2="0"><stop offset="0.0000" stop-color="#0c2159"/><stop offset="0.1255" stop-color="#0c2159"/><stop offset="0.1322" stop-color="#0b255e"/><stop offset="0.1389" stop-color="#0a2963"/><stop offset="0.1456" stop-color="#092e68"/><stop offset="0.1524" stop-color="#083572"/><stop offset="0.1591" stop-color="#084083"/><stop offset="0.2000" stop-color="#09529d"/><stop offset="0.2273" stop-color="#125ea6"/><stop offset="0.2545" stop-color="#1b69af"/><stop offset="0.2955" stop-color="#2474b6"/><stop offset="0.3364" stop-color="#2e7ebc"/><stop offset="0.4273" stop-color="#4191c5"/><stop offset="0.5182" stop-color="#549dcd"/><stop offset="0.5727" stop-color="#63a5d2"/><stop offset="0.6273" stop-color="#73aed7"/><stop offset="0.6682" stop-color="#86b9db"/><stop offset="0.7091" stop-color="#98c3e0"/><stop offset="0.7500" stop-color="#a6cae4"/><stop offset="0.7909" stop-color="#b3d1e8"/><stop offset="0.8636" stop-color="#c8dcf0"/><stop offset="0.8818" stop-color="#d0e1f2"/><stop offset="0.9000" stop-color="#d7e7f5"/><stop offset="0.9182" stop-color="#dfecf7"/><stop offset="0.9727" stop-color="#edf5fc"/><stop offset="1.0000" stop-color="#eff6fc"/></linearGradient>
<rect x="628.00" y="519" width="110.00" height="12" fill="url(#g38_0)"/>
<linearGradient id="g39_0" x1="0" x2="1" y1="0" y2="0"><stop offset="0.0000" stop-color="#0c2159"/><stop offset="0.0077" stop-color="#0c2159"/><stop offset="0.0110" stop-color="#0b255e"/><stop offset="0.0143" stop-color="#0a2963"/><stop offset="0.0176" stop-color="#092d68"/><stop offset="0.0209" stop-color="#083471"/><stop offset="0.0242" stop-color="#083f81"/><stop offset="0.0275" stop-color="#084a92"/><stop offset="0.0308" stop-color="#0b559f"/><stop offset="0.0423" stop-color="#135fa7"/><stop offset="0.0538" stop-color="#1b69af"/><stop offset="0.0654" stop-color="#2474b6"/><stop offset="0.0769" stop-color="#2e7ebc"/><stop offset="0.1462" stop-color="#4191c5"/><stop offset="0.2154" stop-color="#579ece"/><stop offset="0.2692" stop-color="#64a6d3"/><stop offset="0.3231" stop-color="#73aed7"/><stop offset="0.4000" stop-color="#83b7db"/><stop offset="0.4769" stop-color="#98c3e0"/><stop offset="0.5923" stop-color="#a3c9e3"/><stop offset="0.7077" stop-color="#bcd6ec"/><stop offset="0.7654" stop-color="#c8dcf0"/><stop offset="0.8231" stop-color="#d0e1f2"/><stop offset="0.9000" stop-color="#dbe9f6"/><stop offset="0.9769" stop-color="#e5eff9"/><stop offset="1.0000" stop-color="#e9f2fb"/></linearGradient>
<rect x="738.00" y="531" width="130.00" height="12" fill="url(#g39_0)"/>
<linearGradient id="g40_0" x1="0" x2="1" y1="0" y2="0"><stop offset="0.0000" stop-color="#90b8dc"/><stop offset="0.0244" stop-color="#a8c8e4"/><stop offset="0.4146" stop-color="#c0d6ec"/><stop offset="0.7805" stop-color="#d0e0f0"/><stop offset="1.0000" stop-color="#d8e5f3"/></linearGradient>
<rect x="868.00" y="543" width="41.00" height="12" fill="url(#g40_0)"/>
<rect x="517.50" y="555" width="1.00" height="12" fill="#a0b8d8"/>
<rect x="525.00" y="555" width="10.00" height="12" fill="#b0c4de"/>
<rect x="575.80" y="555" width="1.00" height="12" fill="#b0c4dc"/>
<rect x="909.20" y="555" width="2.00" height="12" fill="#0c2159"/>
<linearGradient id="g42_0" x1="0" x2="1" y1="0" y2="0"><stop offset="0.0000" stop-color="#0c2159"/><stop offset="0.0058" stop-color="#0c2159"/><stop offset="0.0072" stop-color="#0b265e"/><stop offset="0.0085" stop-color="#0a2a64"/><stop offset="0.0098" stop-color="#082f69"/><stop offset="0.0111" stop-color="#083877"/><stop offset="0.0125" stop-color="#084488"/><stop offset="0.0138" stop-color="#08509a"/><stop offset="0.0297" stop-color="#125ea6"/><stop offset="0.0456" stop-color="#1d6cb1"/><stop offset="0.0721" stop-color="#2676b8"/><stop offset="0.0986" stop-color="#3181bd"/><stop offset="0.1357" stop-color="#4191c5"/><stop offset="0.1782" stop-color="#549dcd"/><stop offset="0.2206" stop-color="#64a6d3"/><stop offset="0.2577" stop-color="#73aed7"/><stop offset="0.3107" stop-color="#83b7db"/><stop offset="0.3637" stop-color="#90bede"/><stop offset="0.4168" stop-color="#98c3e0"/><stop offset="0.4698" stop-color="#a3c9e3"/><stop offset="0.6288" stop-color="#b3d1e8"/><stop offset="0.6819" stop-color="#bcd6ec"/><stop offset="0.7879" stop-color="#c6dbef"/><stop offset="0.8940" stop-color="#c8dcf0"/><stop offset="0.9470" stop-color="#d3e4f3"/><stop offset="0.9894" stop-color="#e1edf8"/><stop offset="1.0000" stop-color="#e3eef9"/></linearGradient>
<rect x="911.40" y="567" width="188.60" height="12" fill="url(#g42_0)"/>
<linearGradient id="g42_1" x1="0" x2="1" y1="0" y2="0"><stop offset="0.0000" stop-color="#a3c9e3"/><stop offset="0.0435" stop-color="#b6d3e9"/><stop offset="0.5652" stop-color="#b6d3e9"/><stop offset="0.7826" stop-color="#c8dcf0"/><stop offset="0.8913" stop-color="#d2e3f3"/><stop offset="1.0000" stop-color="#dbe9f6"/></linearGradient>
<rect x="1114.00" y="567" width="46.00" height="12" fill="url(#g42_1)"/>
<linearGradient id="g43_4" x1="0" x2="1" y1="0" y2="0"><stop offset="0.0000" stop-color="#6aa4d0"/><stop offset="0.3571" stop-color="#a0c4e0"/><stop offset="0.9286" stop-color="#c0d4ea"/><stop offset="1.0000" stop-color="#c0d4ea"/></linearGradient>
<rect x="1100.00" y="579" width="14.00" height="12" fill="url(#g43_4)"/>
<linearGradient id="g44_3" x1="0" x2="1" y1="0" y2="0"><stop offset="0.0000" stop-color="#08509a"/><stop offset="0.0326" stop-color="#105ca4"/><stop offset="0.0652" stop-color="#1a68ae"/><stop offset="0.0978" stop-color="#2474b7"/><stop offset="0.1304" stop-color="#3181bd"/><stop offset="0.2029" stop-color="#3b8bc3"/><stop offset="0.2754" stop-color="#4795c8"/><stop offset="0.3478" stop-color="#549dcd"/><stop offset="0.4565" stop-color="#68a8d4"/><stop offset="0.5652" stop-color="#7fb5da"/><stop offset="0.6522" stop-color="#90bede"/><stop offset="0.7391" stop-color="#a0c7e2"/><stop offset="0.8152" stop-color="#aecee7"/><stop offset="0.8913" stop-color="#bcd6ec"/><stop offset="0.9457" stop-color="#c8dcf0"/><stop offset="1.0000" stop-color="#d0e1f2"/></linearGradient>
<rect x="1114.00" y="591" width="46.00" height="12" fill="url(#g44_3)"/>
</g>
<rect x="616" y="707" width="48" height="16" fill="url(#lg)"/>
<rect x="618.8" y="707" width="1" height="4" fill="#fff"/>
<rect x="618.8" y="719" width="1" height="4" fill="#fff"/>
<rect x="659" y="707" width="1" height="4" fill="#fff"/>
<rect x="659" y="719" width="1" height="4" fill="#fff"/>
<g fill="#000" opacity="0.999" stroke="#000" stroke-width="0.25">
<g font-size="16.05">
<text x="1164.1" y="75.1">1.Myelocyte</text>
<text x="1164.1" y="87.1">6. Plasmacytoid Dendritic Cell</text>
<text x="1164.1" y="99.1">45. Plasma Cells</text>
<text x="1164.1" y="111.1">9. Cancer Associated Fibroblast: Inflammatory</text>
<text x="1164.1" y="123.1">29. IFN Response</text>
<text x="1164.1" y="135.1">19. DC</text>
<text x="1164.1" y="147.1">28. M-MDSC</text>
<text x="1164.1" y="159.1">8. MACROPHAGE</text>
<text x="1164.1" y="171.1">23. Intermediate Monocyte</text>
<text x="1164.1" y="183.1">10. Schwannian Stromal Cell</text>
<text x="1164.1" y="195.1">21. Cancer Associated Fibroblast: Myofibroblast (Contractile)</text>
<text x="1164.1" y="207.1">4. Cancer Associated Fibroblast: Intermediate [Myo:Inf]</text>
<text x="1164.1" y="219.1">37. Cancer Associated Fibroblast</text>
<text x="1164.1" y="231.1">26. Neuroblastoma #6</text>
<text x="1164.1" y="243.1">27. Neuroblastoma #7</text>
<text x="1164.1" y="255.1">39. Neuroblastoma #10</text>
<text x="1164.1" y="267.1">16. NFkB: Myeloid</text>
<text x="1164.1" y="279.1">22. NFkB: Activity Program</text>
<text x="1164.1" y="291.1">3. Epithelial #1</text>
<text x="1164.1" y="303.1">36. Neuroblastoma #9</text>
<text x="1164.1" y="315.1">24. Cancer Associated Fibroblast: Intermediate [Inf:Ang]</text>
<text x="1164.1" y="327.1">31. Epithelial #3</text>
<text x="1164.1" y="339.1">15. Neuroblastoma #4</text>
<text x="1164.1" y="351.1">7. Endothelial: Angiogenesis</text>
<text x="1164.1" y="363.1">38. Endothelial</text>
<text x="1164.1" y="375.1">41. Endothelial: Lymphatic</text>
<text x="1164.1" y="387.1">2. Neuroblastoma #1</text>
<text x="1164.1" y="399.1">33. Epithelial #4</text>
<text x="1164.1" y="411.1">25. Neuroblastoma #5</text>
<text x="1164.1" y="423.1">35. CD8+ T Cells</text>
<text x="1164.1" y="435.1">11. Naive B Cell</text>
<text x="1164.1" y="447.1">18. Memory T Cell</text>
<text x="1164.1" y="459.1">20. Cytotoxic T Cell</text>
<text x="1164.1" y="471.1">32. NFkB: Fibrotic Neuroblastoma</text>
<text x="1164.1" y="483.1">44. Neuroblastoma: Adrenergic #2</text>
<text x="1164.1" y="495.1">12. Epithelial #2</text>
<text x="1164.1" y="507.1">14. Fetal Liver Hepatoblast-Like</text>
<text x="1164.1" y="519.1">5. Neuroblastoma #2</text>
<text x="1164.1" y="531.1">42. Neuroblastoma #12</text>
<text x="1164.1" y="543.1">17. Neuroblastoma: MYCN</text>
<text x="1164.1" y="555.1">34. Neuroblastoma #8</text>
<text x="1164.1" y="567.1">13. Neuroblastoma #3</text>
<text x="1164.1" y="579.1">30. Neuroblastoma: Adrenergic #1</text>
<text x="1164.1" y="591.1">40. Neuroblastoma #11</text>
<text x="1164.1" y="603.1">43. Neuroblastoma #13</text>
</g>
<text x="664.5" y="626.8" font-size="17.2" text-anchor="middle">Cells</text>
<text transform="translate(157.8,333.6) rotate(-90)" font-size="17.6" text-anchor="middle">GEPs</text>
<text x="616" y="699.8" font-size="13.3" font-weight="bold">Activity Scores</text>
<text x="619.3" y="736" font-size="13" text-anchor="middle">0</text>
<text x="659.3" y="736" font-size="13" text-anchor="middle">200</text>
</g>
</svg>
</body></html>
